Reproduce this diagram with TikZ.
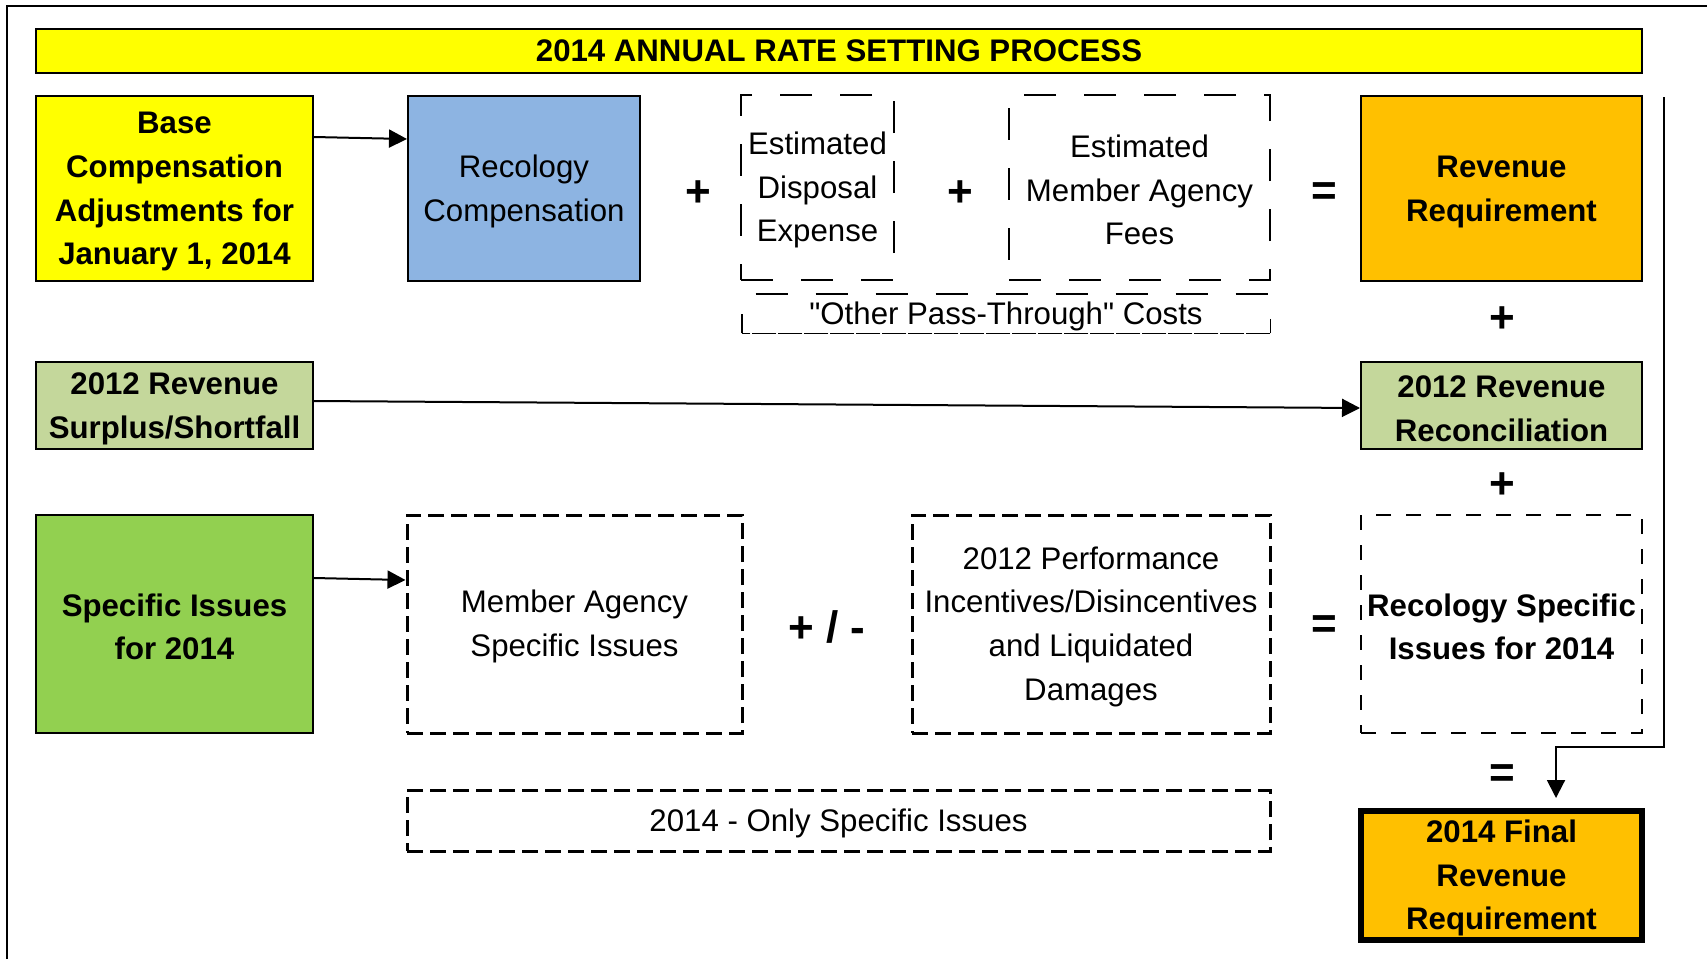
\documentclass[tikz,border=0pt]{standalone}
\usepackage{fontspec}
\setmainfont{Liberation Sans}[Ligatures=TeXOff]
\usetikzlibrary{arrows.meta}

\definecolor{titleyellow}{HTML}{FFFF00}
\definecolor{recblue}{HTML}{8DB4E2}
\definecolor{revorange}{HTML}{FFC000}
\definecolor{palegreen}{HTML}{C4D79B}
\definecolor{leafgreen}{HTML}{92D050}

% taller first line so the text block sits a little lower in its box
\newcommand{\firstline}{\rule{0pt}{14pt}}

\begin{document}
\begin{tikzpicture}[x=0.5pt,y=-0.5pt,
  plaintxt/.style={font=\fontsize{15.6pt}{21.8pt}\selectfont, align=center},
  boldtxt/.style={font=\fontsize{15.6pt}{21.8pt}\selectfont\bfseries, align=center},
  solidbox/.style={draw, line width=1pt, inner sep=0pt},
  longdash/.style={draw, line width=0.9pt, inner sep=0pt, dash pattern=on 16pt off 14pt},
  shortdash/.style={draw, line width=1.5pt, inner sep=0pt, dash pattern=on 8pt off 3.5pt},
  wideshort/.style={draw, line width=1.3pt, inner sep=0pt, dash pattern=on 7.5pt off 7.5pt},
  opsign/.style={font=\fontsize{22pt}{22pt}\selectfont\bfseries, inner sep=0pt},
  arr/.style={line width=1pt, -{Triangle[length=9pt,width=9pt]}}
]
\useasboundingbox (0,0) rectangle (1707,959);

% outer frame (top and left edges)
\draw[line width=1.2pt] (7,959) -- (7,6) -- (1707,6);

% title bar
\node[solidbox, line width=1.2pt, fill=titleyellow, boldtxt, minimum width=803pt, minimum height=22pt] (title) at (839,51) {2014 ANNUAL RATE SETTING PROCESS};

% first row
\node[solidbox, fill=titleyellow, boldtxt, minimum width=138.5pt, minimum height=92.5pt] (base) at (174.5,188.5) {\firstline Base\\Compensation\\Adjustments for\\January 1, 2014};
\node[solidbox, fill=recblue, plaintxt, minimum width=116pt, minimum height=92.5pt] (recomp) at (524,188.5) {\firstline Recology\\Compensation};
\node[longdash, plaintxt, minimum width=76.5pt, minimum height=92.5pt] (disp) at (817.5,187.5) {\firstline Estimated\\Disposal\\Expense};
\node[longdash, plaintxt, minimum width=130.5pt, minimum height=92.5pt] (fees) at (1139.5,187.5) {\firstline Estimated\\Member Agency\\Fees};
\node[solidbox, fill=revorange, boldtxt, minimum width=140.5pt, minimum height=92.5pt] (revreq) at (1501.5,188.5) {\firstline Revenue\\Requirement};

% pass-through bracket: long dashes on top and right, near-solid bottom and left
\node[inner sep=0pt, plaintxt, minimum width=264pt, minimum height=19.5pt] (other) at (1006,313.5) {\firstline "Other Pass-Through" Costs};
\draw[line width=0.9pt, dash pattern=on 16pt off 14pt] (other.north west) ++(14,0) -- (other.north east) -- (other.south east);
\draw[line width=0.9pt, dash pattern=on 12pt off 1pt] (other.south east) -- (other.south west);
\draw[line width=0.9pt] (other.south west) -- (other.west);

% second row
\node[solidbox, fill=palegreen, boldtxt, minimum width=138.5pt, minimum height=43.5pt] (surplus) at (174.5,405.5) {\firstline 2012 Revenue\\Surplus/Shortfall};
\node[solidbox, fill=palegreen, boldtxt, minimum width=140.5pt, minimum height=43.5pt] (recon) at (1501.5,405.5) {\firstline 2012 Revenue\\Reconciliation};

% third row
\node[solidbox, fill=leafgreen, boldtxt, minimum width=138.5pt, minimum height=109pt] (specific) at (174.5,624) {\firstline Specific Issues\\for 2014};
\node[shortdash, plaintxt, minimum width=167.5pt, minimum height=109pt] (memb) at (574.5,624) {\firstline Member Agency\\Specific Issues};
\node[shortdash, plaintxt, minimum width=179pt, minimum height=109pt] (perf) at (1091,624) {\firstline 2012 Performance\\Incentives/Disincentives\\and Liquidated\\Damages};
\node[wideshort, boldtxt, minimum width=140.5pt, minimum height=109pt] (recspec) at (1501.5,624) {\firstline Recology Specific\\Issues for 2014};

% bottom row
\node[shortdash, plaintxt, minimum width=431.5pt, minimum height=30.5pt] (only) at (838.5,820.5) {\firstline 2014 - Only Specific Issues};
\node[draw, line width=3pt, inner sep=0pt, fill=revorange, boldtxt, minimum width=140.5pt, minimum height=64.5pt] (final) at (1501.5,875.5) {\firstline 2014 Final\\Revenue\\Requirement};

% operators
\node[opsign] (p1) at (698,194) {+};
\node[opsign] (p2) at (960,194) {+};
\node[opsign] (e1) at (1324,194) {=};
\node[opsign] (p3) at (1502,320) {+};
\node[opsign] (p4) at (1502,486) {+};
\node[opsign] (pm) at (827,627) {+ / -};
\node[opsign] (e2) at (1324,627) {=};
\node[opsign] (e3) at (1502,776) {=};

% connectors
\draw[arr] (base.east |- 0,137) -- (recomp.west |- 0,139);
\draw[arr] (surplus.east |- 0,401) -- (recon.west |- 0,408);
\draw[arr] (specific.east |- 0,578) -- (memb.west |- 0,580);

\coordinate (fbtop) at (1664,97);
\coordinate (fbturn) at (1664,747);
\draw[arr, shorten >=5pt] (fbtop) -- (fbturn) -- (fbturn -| 1556,0) -- (final.north -| 1556,0);
\end{tikzpicture}
\end{document}
